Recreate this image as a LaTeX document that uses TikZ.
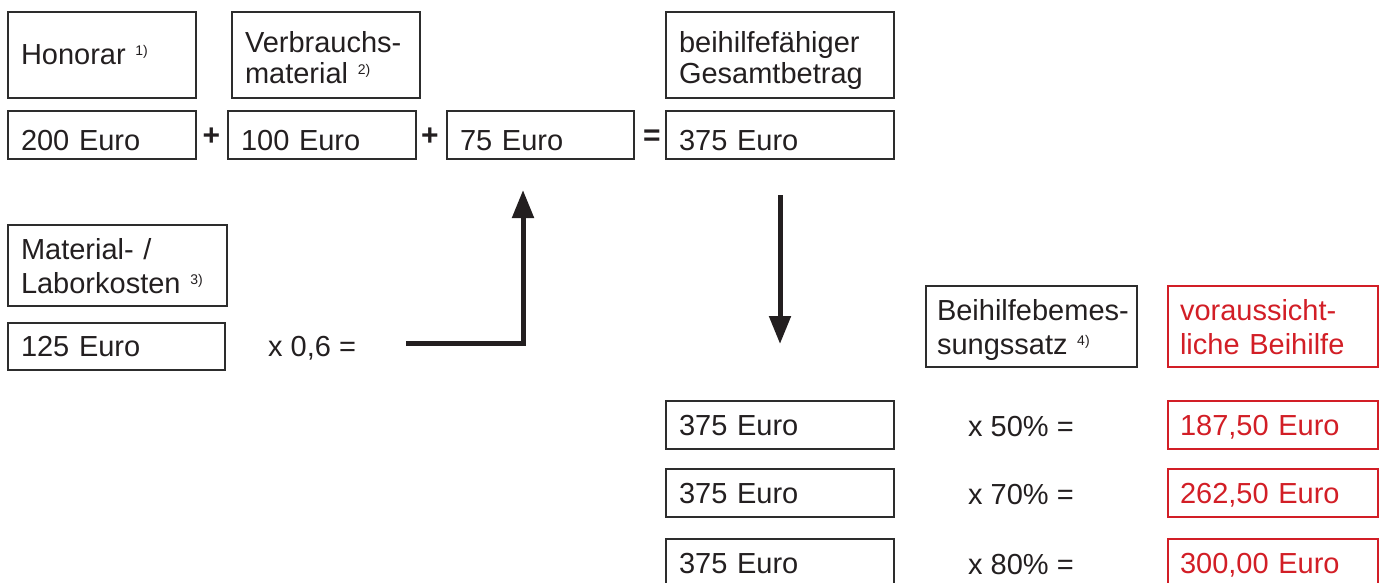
\documentclass[tikz,border=0pt]{standalone}
\usepackage{fontspec}
\setmainfont{Liberation Sans}
\usetikzlibrary{arrows.meta}
\definecolor{ink}{RGB}{35,31,32}
\definecolor{frame}{RGB}{45,45,45}
\definecolor{hl}{RGB}{210,30,38}
\newcommand{\fnmark}[1]{\raisebox{9pt}{\fontsize{14}{14}\selectfont #1}}
\lefthyphenmin=62
\hyphenpenalty=10000
\exhyphenpenalty=10000
\hbadness=10000
\hfuzz=20pt
\begin{document}
\begin{tikzpicture}[x=1pt,y=-1pt,
  bx/.style={draw=frame, line width=1.3pt, rectangle, anchor=north west,
    inner xsep=13pt, inner ysep=0pt, outer sep=0pt, align=left, text=ink,
    font=\fontsize{29}{34}\selectfont},
  one/.style={text depth=0pt},
  two/.style={text depth=34pt},
  toptwo/.style={font=\fontsize{29}{31}\selectfont, text depth=26pt},
  rbx/.style={bx, draw=hl, text=hl, inner xsep=12pt},
  lbl/.style={anchor=west, inner sep=0pt, text=ink, text depth=0pt,
    font=\fontsize{29}{34}\selectfont},
  op/.style={anchor=base, inner sep=0pt, text=ink, font=\fontsize{30}{30}\selectfont\bfseries},
  arr/.style={draw=ink, line width=5pt, line join=miter,
    -{Triangle[length=28pt,width=21pt]}}]
\useasboundingbox (0,0) rectangle (1381,583);

% header row
\node[bx, one, minimum width=188pt, text width=162pt, minimum height=86pt] (hon) at (8,12) {Honorar \fnmark{1)}};
\node[bx, toptwo, minimum width=188pt, text width=162pt, minimum height=86pt] (ver) at (232,12) {Verbrauchs-\\material \fnmark{2)}};
\node[bx, toptwo, minimum width=228pt, text width=202pt, minimum height=86pt] (ges) at (666,12) {beihilfefähiger\\Gesamtbetrag};

% value row
\node[bx, text depth=0pt, text height=30pt, minimum width=188pt, text width=162pt, minimum height=48pt] (v200) at (8,111) {200 Euro};
\node[bx, text depth=0pt, text height=30pt, minimum width=188pt, text width=162pt, minimum height=48pt] (v100) at (228,111) {100 Euro};
\node[bx, text depth=0pt, text height=30pt, minimum width=187pt, text width=161pt, minimum height=48pt] (v75) at (447,111) {75 Euro};
\node[bx, text depth=0pt, text height=30pt, minimum width=228pt, text width=202pt, minimum height=48pt] (v375) at (666,111) {375 Euro};
\node[op] (plus1) at (211.5,146) {+};
\node[op] (plus2) at (430,146) {+};
\node[op] (eq) at (652,146) {=};

% material
\node[bx, two, minimum width=219pt, text width=193pt, minimum height=81pt] (mat) at (8,225) {Material- /\\Laborkosten \fnmark{3)}};
\node[bx, one, minimum width=217pt, text width=191pt, minimum height=47pt] (v125) at (8,323) {125 Euro};
\node[lbl] (m06) at (268,346) {x 0,6 =};

% right part headers
\node[bx, two, inner xsep=11pt, minimum width=211pt, text width=189pt, minimum height=81pt] (satz) at (926,286) {Beihilfebemes-\\sungssatz \fnmark{4)}};
\node[rbx, two, minimum width=210pt, text width=186pt, minimum height=81pt] (vor) at (1168,286) {voraussicht-\\liche Beihilfe};

% result rows
\node[bx, one, minimum width=228pt, text width=202pt, minimum height=48pt] (r1) at (666,401) {375 Euro};
\node[bx, one, minimum width=228pt, text width=202pt, minimum height=48pt] (r2) at (666,469) {375 Euro};
\node[bx, one, minimum width=228pt, text width=202pt, minimum height=48pt] (r3) at (666,539) {375 Euro};
\node[lbl] (p50) at (968,426) {x 50\% =};
\node[lbl] (p70) at (968,494) {x 70\% =};
\node[lbl] (p80) at (968,564) {x 80\% =};
\node[rbx, one, minimum width=210pt, text width=186pt, minimum height=48pt] (e1) at (1168,401) {187,50 Euro};
\node[rbx, one, minimum width=210pt, text width=186pt, minimum height=48pt] (e2) at (1168,469) {262,50 Euro};
\node[rbx, one, minimum width=210pt, text width=186pt, minimum height=48pt] (e3) at (1168,539) {300,00 Euro};

% arrows
\coordinate (a1s) at (406,343);
\coordinate (a1e) at (523,190);
\draw[arr] (a1s) -| (a1e);
\coordinate (a2s) at (780,195);
\coordinate (a2e) at (780,344);
\draw[arr] (a2s) -- (a2e);
\end{tikzpicture}
\end{document}
